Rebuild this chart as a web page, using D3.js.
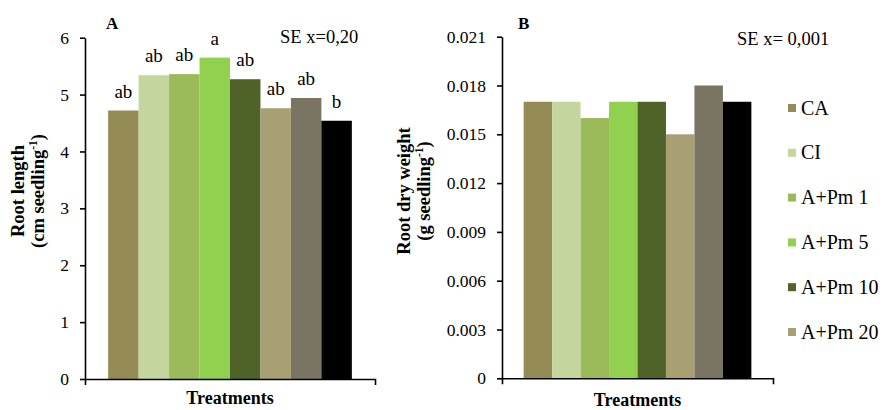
<!DOCTYPE html>
<html>
<head>
<meta charset="utf-8">
<script src="https://cdn.jsdelivr.net/npm/d3@7"></script>
<style>
  body { margin: 0; background: #fff; }
  svg text { font-family: "Liberation Serif", "Times New Roman", serif; fill: #000; }
</style>
</head>
<body>
<div id="chart"></div>
<script>
// data
var legendLabels = ['CA', 'CI', 'A+Pm 1', 'A+Pm 5', 'A+Pm 10', 'A+Pm 20'];
var barColors = ['#958b55', '#c4d69e', '#9bbb5a', '#92d050', '#4f6228', '#a8a072', '#7a7562', '#000000'];
var rootLength = [4.72, 5.34, 5.36, 5.65, 5.27, 4.76, 4.94, 4.54];
var lengthLetters = ['ab', 'ab', 'ab', 'a', 'ab', 'ab', 'ab', 'b'];
var rootDryWeight = [0.017, 0.017, 0.016, 0.017, 0.017, 0.015, 0.018, 0.017];
var lengthTicks = [0, 1, 2, 3, 4, 5, 6];
var weightTicks = [0, 0.003, 0.006, 0.009, 0.012, 0.015, 0.018, 0.021];

var width = 884;
var height = 410;

var svg = d3.select('#chart')
    .append('svg')
    .attr('width', width)
    .attr('height', height);

function drawPanel(opt) {
    var g = svg.append('g');

    var x = d3.scaleBand()
        .domain(d3.range(opt.values.length))
        .range([opt.left, opt.right])
        .paddingInner(0)
        .paddingOuter(0.76);

    var y = d3.scaleLinear()
        .domain([0, opt.max])
        .range([opt.bottom, opt.top]);

    // bars
    g.selectAll('rect.bar')
        .data(opt.values)
        .enter()
        .append('rect')
        .attr('class', 'bar')
        .attr('x', (d, i) => x(i))
        .attr('y', d => y(d))
        .attr('width', x.bandwidth())
        .attr('height', d => y(0) - y(d))
        .style('fill', (d, i) => barColors[i]);

    // y axis
    var yAxis = d3.axisLeft(y)
        .tickValues(opt.ticks)
        .tickFormat(opt.format)
        .tickSizeInner(5)
        .tickSizeOuter(0)
        .tickPadding(11);

    var ya = g.append('g')
        .attr('transform', 'translate(' + opt.left + ',0)')
        .call(yAxis);
    ya.selectAll('path, line').attr('stroke', '#000').attr('stroke-width', 1.6);
    ya.selectAll('text')
        .style('font-family', '"Liberation Serif", serif')
        .style('font-size', '17.5px');

    // x axis, only end ticks
    var xAxis = d3.axisBottom(x)
        .tickValues([])
        .tickSizeOuter(6);

    var xa = g.append('g')
        .attr('transform', 'translate(0,' + opt.bottom + ')')
        .call(xAxis);
    xa.selectAll('path').attr('stroke', '#000').attr('stroke-width', 1.6);

    // letters above bars
    if (opt.letters) {
        g.selectAll('text.letter')
            .data(opt.values)
            .enter()
            .append('text')
            .attr('class', 'letter')
            .attr('x', (d, i) => x(i) + x.bandwidth() / 2)
            .attr('y', d => y(d) - 13)
            .attr('text-anchor', 'middle')
            .style('font-size', '19px')
            .text((d, i) => opt.letters[i]);
    }

    // panel letter
    g.append('text')
        .attr('x', opt.tagX)
        .attr('y', 29)
        .style('font-size', '17px')
        .style('font-weight', 'bold')
        .text(opt.tag);

    // SE note
    g.append('text')
        .attr('x', opt.seX)
        .attr('y', opt.seY)
        .style('font-size', '18.5px')
        .text(opt.se);

    // x title
    g.append('text')
        .attr('x', (opt.left + opt.right) / 2)
        .attr('y', opt.xTitleY)
        .attr('text-anchor', 'middle')
        .style('font-size', '18px')
        .style('font-weight', 'bold')
        .text('Treatments');

    // y title, two lines
    var yt = g.append('g')
        .attr('transform', 'translate(0,191) rotate(-90)');

    yt.append('text')
        .attr('x', 0)
        .attr('y', opt.yTitleX[0])
        .attr('text-anchor', 'middle')
        .style('font-size', '18.5px')
        .style('font-weight', 'bold')
        .text(opt.yTitle);

    var line2 = yt.append('text')
        .attr('x', 0)
        .attr('y', opt.yTitleX[1])
        .attr('text-anchor', 'middle')
        .style('font-size', '18.5px')
        .style('font-weight', 'bold');
    line2.append('tspan').text(opt.unit);
    line2.append('tspan')
        .attr('dy', -7)
        .style('font-size', '11.5px')
        .text('-1');
    line2.append('tspan')
        .attr('dy', 7)
        .text(')');
}

drawPanel({
    values: rootLength,
    letters: lengthLetters,
    max: 6,
    ticks: lengthTicks,
    format: d3.format('d'),
    left: 85, right: 375, top: 37.7, bottom: 379,
    tag: 'A', tagX: 106,
    se: 'SE x=0,20', seX: 280, seY: 43,
    xTitleY: 404,
    yTitle: 'Root length', unit: '(cm seedling',
    yTitleX: [24, 44]
});

drawPanel({
    values: rootDryWeight,
    letters: null,
    max: 0.021,
    ticks: weightTicks,
    format: d => d === 0 ? '0' : d3.format('.3f')(d),
    left: 502, right: 773, top: 36.7, bottom: 378.3,
    tag: 'B', tagX: 518,
    se: 'SE x= 0,001', seX: 737, seY: 45,
    xTitleY: 406,
    yTitle: 'Root dry weight', unit: '(g seedling',
    yTitleX: [410, 430]
});

// legend (only six entries shown in the original)
var legend = svg.append('g')
    .selectAll('g')
    .data(legendLabels)
    .enter()
    .append('g')
    .attr('transform', (d, i) => 'translate(788,' + (108 + i * 44.8) + ')');

legend.append('rect')
    .attr('x', 0)
    .attr('y', -4)
    .attr('width', 8)
    .attr('height', 8)
    .style('fill', (d, i) => barColors[i]);

legend.append('text')
    .attr('x', 13)
    .attr('y', 6.5)
    .style('font-size', '20px')
    .text(d => d);
</script>
</body>
</html>
